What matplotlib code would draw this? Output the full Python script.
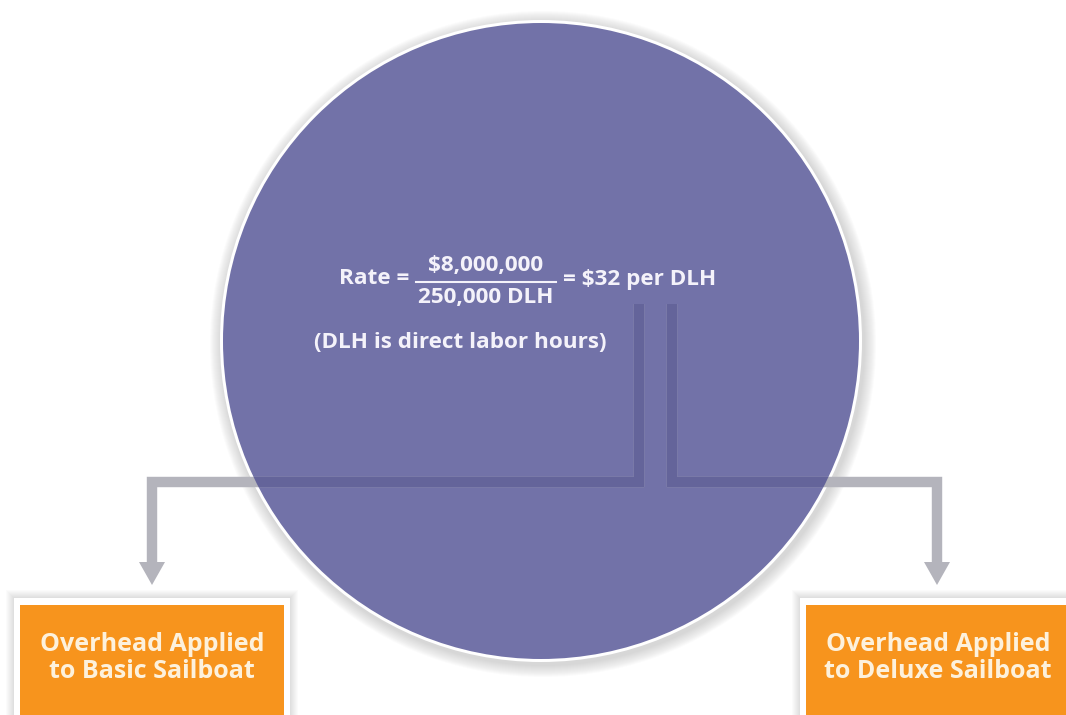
import matplotlib
matplotlib.use("Agg")
import matplotlib.pyplot as plt
from matplotlib.patches import Circle, Rectangle, Polygon

# ---- content ----
rate_label = "Rate ="
numerator = "$8,000,000"
denominator = "250,000 DLH"
result = "= $32 per DLH"
note = "(DLH is direct labor hours)"
box_labels = ["Overhead Applied\nto Basic Sailboat", "Overhead Applied\nto Deluxe Sailboat"]

W, H = 1066, 715
fig = plt.figure(figsize=(W / 100, H / 100), dpi=100)
ax = fig.add_axes([0, 0, 1, 1])
ax.set_xlim(0, W)
ax.set_ylim(H, 0)
ax.axis("off")

FONT = "Open Sans"
PURPLE = "#7272a8"
ORANGE = "#f7941d"
TXT = "#f4f2fa"
BOXTXT = "#fdf1dc"
LINE = "#b4b4bc"
LINE_IN = "#64649a"

cx, cy, r = 541, 341, 318
# soft shadow
for i in range(12):
    ax.add_patch(Circle((cx + 2, cy + 3), r + 3 + 12 - i, color="#707070", alpha=0.025, lw=0, zorder=1))
ax.add_patch(Circle((cx, cy), r + 3, color="white", lw=0, zorder=2))
circ = Circle((cx, cy), r, color=PURPLE, lw=0, zorder=3)
ax.add_patch(circ)

# connectors
lw = 7.5
paths = [([639, 639, 152, 152], [304, 482, 482, 564]),
         ([672, 672, 937, 937], [304, 482, 482, 564])]
for xs, ys in paths:
    ax.plot(xs, ys, color=LINE, lw=lw, solid_joinstyle="miter", solid_capstyle="butt", zorder=4)
    ln, = ax.plot(xs, ys, color=LINE_IN, lw=lw, solid_joinstyle="miter", solid_capstyle="butt", zorder=5)
    ln.set_clip_path(circ)
    x0 = xs[-1]
    ax.add_patch(Polygon([[x0 - 13, 562], [x0 + 13, 562], [x0, 585]], closed=True,
                         color=LINE, lw=0, zorder=4))

# boxes
boxes = [(14, 598, 276, 125), (800, 598, 276, 125)]
for (bx, by, bw, bh), lab in zip(boxes, box_labels):
    for i in range(8):
        ax.add_patch(Rectangle((bx - 8 + i, by - 8 + i), bw + 16 - 2 * i, bh + 16 - 2 * i,
                               color="#808080", alpha=0.03, lw=0, zorder=6))
    ax.add_patch(Rectangle((bx, by), bw, bh, color="white", lw=0, zorder=7))
    ax.add_patch(Rectangle((bx + 6, by + 7), bw - 12, bh - 12, color=ORANGE, lw=0, zorder=8))
    tx = 152 if bx < 500 else 938
    ax.text(tx, 658, lab, ha="center", va="center", color=BOXTXT, fontsize=18,
            fontweight="bold", family=FONT, linespacing=1.08, zorder=9)

# formula
fs = 16.2
ax.text(409, 279, rate_label, ha="right", va="center", color=TXT, fontsize=fs,
        fontweight="bold", family=FONT, zorder=9)
ax.text(486, 266, numerator, ha="center", va="center", color=TXT, fontsize=fs,
        fontweight="bold", family=FONT, zorder=9)
ax.plot([416, 556], [282, 282], color=TXT, lw=1.5, zorder=9)
ax.text(486, 297, denominator, ha="center", va="center", color=TXT, fontsize=fs,
        fontweight="bold", family=FONT, zorder=9)
ax.text(563, 279, result, ha="left", va="center", color=TXT, fontsize=fs,
        fontweight="bold", family=FONT, zorder=9)
ax.text(314, 342, note, ha="left", va="center", color=TXT, fontsize=fs,
        fontweight="bold", family=FONT, zorder=9)

fig.savefig("out.png", dpi=100, facecolor="white")
